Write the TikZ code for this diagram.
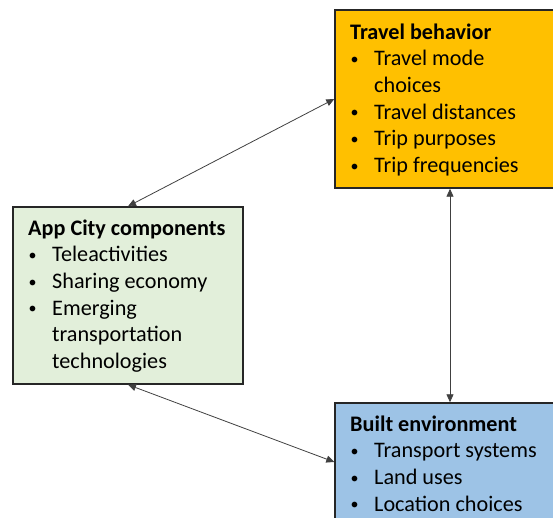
\documentclass[tikz,border=0pt]{standalone}
\usepackage{fontspec}
\setmainfont{Carlito}
\usetikzlibrary{arrows.meta}
\definecolor{tbfill}{HTML}{FFC000}
\definecolor{accfill}{HTML}{E2EFDA}
\definecolor{befill}{HTML}{9DC3E6}
\newcommand{\bit}[1]{\makebox[24pt][l]{\hspace*{0.5pt}\raisebox{1.5pt}{\fontsize{16}{16}\selectfont\textbullet}}#1}
\newcommand{\cont}[1]{\hspace*{24pt}#1}
\tikzset{
  box/.style={draw=black!85, line width=1.4pt, rectangle, inner sep=0pt},
  boxtext/.style={anchor=north west, inner sep=0pt, align=left, font=\fontsize{22.2}{26.7}\selectfont},
  link/.style={draw=black!75, line width=0.8pt, {Triangle[length=8pt,width=7pt]}-{Triangle[length=8pt,width=7pt]}}
}
\begin{document}
\begin{tikzpicture}[x=1pt,y=-1pt]
\useasboundingbox (0,0) rectangle (553,518);
\clip (0,0) rectangle (553,518);
\node[box, fill=tbfill, minimum width=230pt, minimum height=178pt] (tb) at (450,99) {};
\node[box, fill=accfill, minimum width=230pt, minimum height=177pt] (acc) at (128,295.5) {};
\node[box, fill=befill, minimum width=230pt, minimum height=118pt] (be) at (450,462) {};
\node[boxtext] (tbt) at (350,20.3) {\strut\textbf{Travel behavior}\\
\strut\bit{Travel mode}\\
\strut\cont{choices}\\
\strut\bit{Travel distances}\\
\strut\bit{Trip purposes}\\
\strut\bit{Trip frequencies}};
\node[boxtext] (acct) at (28,216.3) {\strut\textbf{App City components}\\
\strut\bit{Teleactivities}\\
\strut\bit{Sharing economy}\\
\strut\bit{Emerging}\\
\strut\cont{transportation}\\
\strut\cont{technologies}};
\node[boxtext] (bet) at (350,412.3) {\strut\textbf{Built environment}\\
\strut\bit{Transport systems}\\
\strut\bit{Land uses}\\
\strut\bit{Location choices}};
\draw[link] (acc.north) -- (tb.west);
\draw[link] (tb.south) -- (be.north);
\draw[link] (acc.south) -- (be.west);
\end{tikzpicture}
\end{document}
